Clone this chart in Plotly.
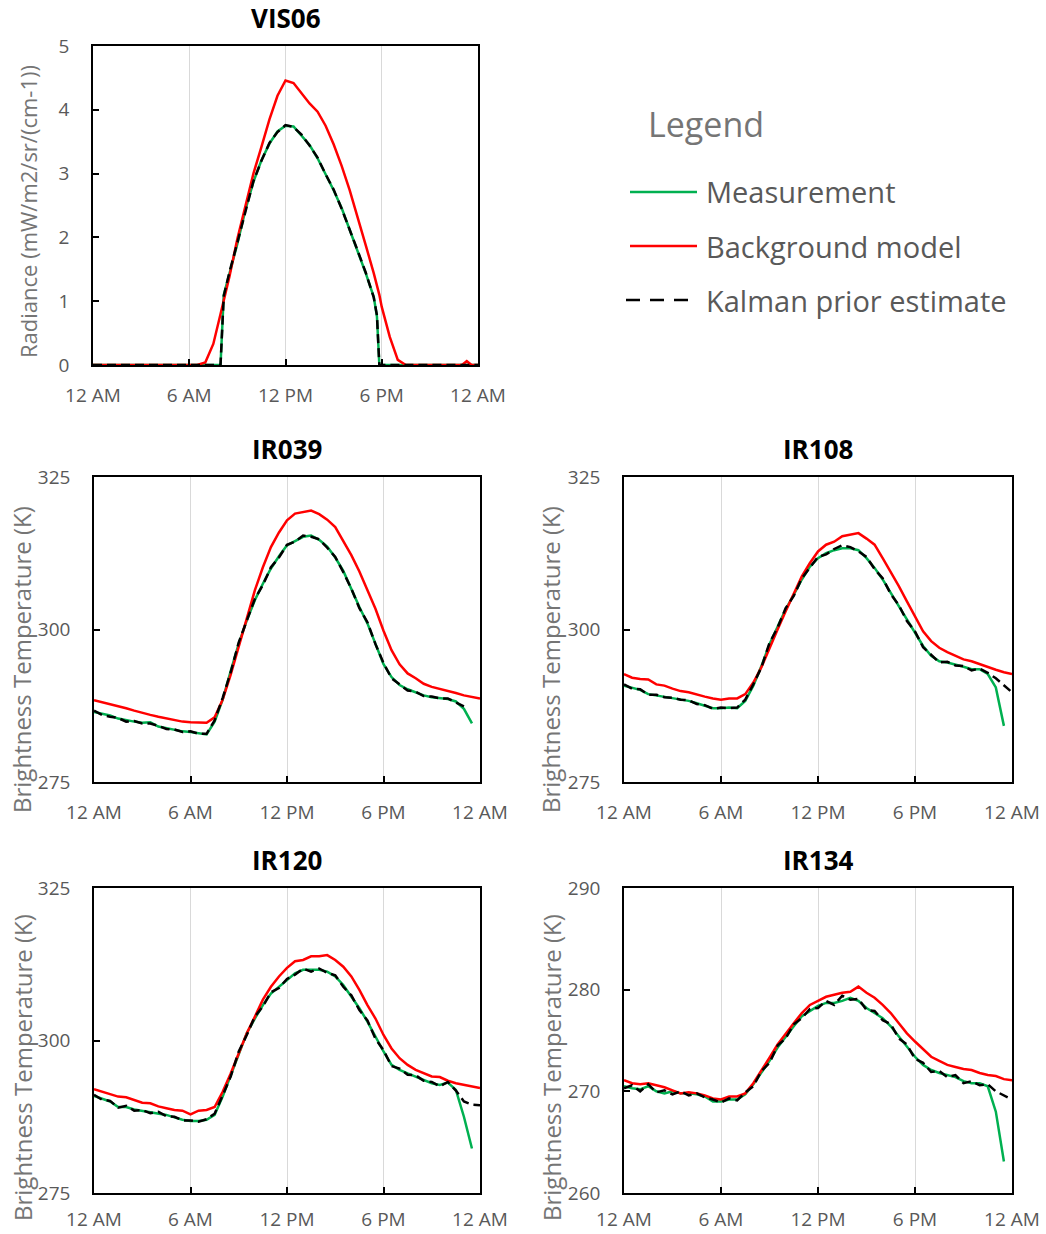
import plotly.graph_objects as go

# ---------------- data ----------------
tick_hours = [0, 6, 12, 18, 24]
tick_labels = ["12 AM", "6 AM", "12 PM", "6 PM", "12 AM"]

hours_vis = [0, 1, 2, 3, 4, 5, 6, 6.5, 7, 7.5, 7.95, 8.15, 8.5, 9, 9.5, 10, 10.5, 11, 11.5, 12,
             12.5, 13, 13.5, 14, 14.5, 15, 15.5, 16, 16.5, 17, 17.5, 17.7, 17.85, 18, 18.5, 19,
             19.5, 20, 21, 22, 23, 23.3, 23.6, 24]
vis06_meas = [0, 0, 0, 0, 0, 0, 0, 0, 0, 0, 0, 1.1, 1.42, 1.9, 2.43, 2.87, 3.21, 3.47, 3.66, 3.75,
              3.74, 3.6, 3.45, 3.24, 3.0, 2.74, 2.46, 2.12, 1.8, 1.44, 1.07, 0.76, 0, 0, 0, 0,
              0, 0, 0, 0, 0, 0, 0, 0]
vis06_bg = [0, 0, 0, 0, 0, 0, 0, 0, 0.04, 0.33, 0.8, 1.0, 1.38, 1.98, 2.5, 3.0, 3.42, 3.85, 4.22, 4.46,
            4.42, 4.26, 4.1, 3.97, 3.75, 3.46, 3.12, 2.74, 2.33, 1.88, 1.44, 1.25, 1.1, 0.91, 0.44, 0.08,
            0, 0, 0, 0, 0, 0.06, 0, 0]
vis06_kal = [0, 0, 0, 0, 0, 0, 0, 0, 0, 0, 0, 1.08, 1.45, 1.92, 2.41, 2.88, 3.2, 3.48, 3.65, 3.76,
             3.73, 3.61, 3.44, 3.25, 2.99, 2.75, 2.45, 2.13, 1.79, 1.45, 1.06, 0.78, 0, 0, 0, 0,
             0, 0, 0, 0, 0, 0, 0, 0]

hours_ir = [0, 0.5, 1, 1.5, 2, 2.5, 3, 3.5, 4, 4.5, 5, 5.5, 6, 6.5, 7, 7.5, 8, 8.5, 9, 9.5,
            10, 10.5, 11, 11.5, 12, 12.5, 13, 13.5, 14, 14.5, 15, 15.5, 16, 16.5, 17, 17.5,
            18, 18.5, 19, 19.5, 20, 20.5, 21, 21.5, 22, 22.5, 23, 23.5, 24]

ir039_meas = [286.5, 286.2, 285.9, 285.4, 285.1, 284.9, 284.7, 284.8, 284.1, 283.8, 283.5, 283.3, 283.2,
              283.0, 282.8, 284.9, 288.5, 293.2, 297.7, 301.5, 304.8, 307.5, 310.0, 312.0, 313.8, 314.5,
              315.2, 315.4, 314.7, 313.6, 311.8, 309.6, 306.5, 303.7, 301.0, 297.8, 294.3, 292.2, 290.9,
              290.2, 289.7, 289.2, 288.9, 288.8, 288.6, 288.2, 287.0, 284.6, None]
ir039_bg = [288.4, 288.1, 287.8, 287.5, 287.1, 286.7, 286.3, 286.0, 285.7, 285.4, 285.1, 284.9, 284.8,
            284.8, 284.7, 285.6, 288.5, 292.6, 297.1, 302.0, 306.4, 310.2, 313.5, 315.9, 317.9, 319.0,
            319.2, 319.5, 318.9, 318.0, 316.8, 314.6, 312.2, 309.5, 306.5, 303.4, 299.8, 296.6, 294.3,
            292.8, 292.0, 291.1, 290.6, 290.3, 290.0, 289.6, 289.2, 288.9, 288.7]
ir039_kal = [286.7, 286.0, 285.7, 285.5, 284.9, 285.0, 284.6, 284.6, 284.2, 283.7, 283.6, 283.2, 283.3,
             282.9, 282.9, 285.1, 288.8, 293.0, 297.9, 301.3, 305.0, 307.3, 310.2, 311.8, 313.9, 314.4,
             315.4, 315.2, 314.8, 313.4, 311.9, 309.4, 306.7, 303.5, 301.2, 297.6, 294.5, 292.0, 291.0,
             290.0, 289.8, 289.1, 289.0, 288.7, 288.7, 288.1, 287.4, None, None]

ir108_meas = [290.8, 290.4, 290.1, 289.4, 289.2, 289.0, 288.7, 288.6, 288.3, 287.9, 287.5, 287.1, 287.1,
              287.2, 287.1, 288.3, 290.8, 294.0, 297.6, 300.5, 303.3, 305.7, 308.2, 310.3, 311.7, 312.5,
              313.0, 313.3, 313.3, 313.0, 311.7, 310.1, 308.2, 306.0, 303.8, 301.6, 299.5, 297.3, 295.7,
              294.8, 294.6, 294.3, 293.9, 293.5, 293.5, 292.7, 290.5, 284.2, None]
ir108_bg = [292.7, 292.1, 291.9, 291.8, 291.0, 290.8, 290.3, 289.9, 289.7, 289.3, 289.0, 288.7, 288.5,
            288.7, 288.7, 289.4, 291.3, 293.8, 297.0, 300.0, 303.0, 306.0, 308.7, 310.9, 312.8, 313.9,
            314.4, 315.3, 315.5, 315.8, 314.9, 313.9, 311.7, 309.5, 307.1, 304.6, 302.2, 299.7, 298.1,
            297.0, 296.3, 295.7, 295.1, 294.8, 294.3, 293.8, 293.4, 293.0, 292.7]
ir108_kal = [291.0, 290.3, 290.2, 289.3, 289.3, 288.9, 288.8, 288.5, 288.4, 287.8, 287.6, 287.0, 287.2,
             287.1, 287.2, 288.5, 291.0, 293.8, 297.8, 300.3, 303.5, 305.5, 308.4, 310.1, 311.9, 312.3,
             313.2, 313.8, 313.5, 312.8, 311.9, 309.9, 308.4, 305.8, 304.0, 301.4, 299.7, 297.1, 295.9,
             294.6, 294.7, 294.1, 294.0, 293.3, 293.6, 292.9, 292.0, 290.8, 289.7]

ir120_meas = [290.9, 290.5, 290.0, 289.1, 289.1, 288.7, 288.5, 288.3, 288.1, 287.8, 287.4, 287.0, 286.8,
              286.8, 287.0, 287.8, 290.8, 294.3, 297.9, 301.2, 303.6, 305.8, 307.7, 308.8, 309.9, 311.0,
              311.6, 311.6, 311.6, 311.3, 310.5, 309.1, 307.2, 305.3, 303.1, 300.6, 298.2, 296.0, 295.2,
              294.6, 294.1, 293.6, 293.0, 292.7, 293.1, 291.9, 287.5, 282.3, None]
ir120_bg = [292.0, 291.6, 291.2, 290.8, 290.7, 290.2, 289.8, 289.7, 289.2, 288.9, 288.6, 288.5, 287.9,
            288.5, 288.6, 289.1, 291.6, 294.6, 297.9, 301.2, 303.9, 306.7, 308.8, 310.5, 311.9, 313.0,
            313.2, 313.8, 313.8, 314.0, 313.2, 312.1, 310.5, 308.3, 305.8, 303.6, 300.9, 298.7, 297.1,
            296.0, 295.2, 294.6, 294.1, 294.0, 293.4, 293.0, 292.7, 292.5, 292.2]
ir120_kal = [291.1, 290.3, 290.1, 289.0, 289.3, 288.5, 288.6, 288.1, 288.3, 287.6, 287.5, 286.9, 286.9,
             286.7, 287.1, 288.0, 291.0, 294.1, 298.2, 300.9, 303.9, 305.6, 307.9, 308.6, 310.1, 310.8,
             311.8, 311.3, 311.8, 311.1, 310.7, 308.8, 307.4, 305.0, 303.3, 300.3, 298.4, 295.8, 295.4,
             294.4, 294.3, 293.4, 293.2, 292.5, 293.2, 291.8, 290.0, 289.5, 289.4]

ir134_meas = [270.5, 270.3, 270.2, 270.5, 270.0, 269.8, 270.0, 269.8, 269.8, 269.7, 269.5, 269.0, 269.0,
              269.2, 269.2, 269.7, 270.7, 271.8, 273.0, 274.3, 275.4, 276.4, 277.4, 277.9, 278.4, 278.7,
              278.7, 278.9, 279.2, 278.9, 278.2, 277.7, 277.2, 276.4, 275.4, 274.4, 273.4, 272.6, 272.1,
              271.8, 271.6, 271.4, 271.0, 270.8, 270.8, 270.5, 268.0, 263.1, None]
ir134_bg = [271.1, 270.8, 270.7, 270.8, 270.6, 270.4, 270.1, 269.8, 269.9, 269.8, 269.6, 269.3, 269.2,
            269.5, 269.5, 269.8, 270.8, 272.0, 273.3, 274.6, 275.7, 276.7, 277.7, 278.5, 278.9, 279.3,
            279.5, 279.7, 279.8, 280.3, 279.7, 279.2, 278.5, 277.7, 276.7, 275.7, 274.9, 274.1, 273.4,
            273.0, 272.6, 272.4, 272.2, 272.1, 271.8, 271.6, 271.5, 271.2, 271.1]
ir134_kal = [270.3, 270.6, 270.0, 270.7, 269.9, 270.1, 269.7, 270.0, 269.6, 269.8, 269.4, 269.2, 268.9,
             269.3, 269.1, 269.9, 270.5, 272.0, 272.8, 274.5, 275.2, 276.6, 277.2, 278.1, 278.2, 278.9,
             278.5, 279.4, 279.0, 279.1, 278.0, 277.9, 277.0, 276.6, 275.2, 274.6, 273.2, 272.8, 271.9,
             272.0, 271.4, 271.6, 270.8, 271.0, 270.6, 270.7, 270.0, 269.6, 269.2]

series_names = ["Measurement", "Background model", "Kalman prior estimate"]

# ---------------- layout helpers ----------------
W, H = 1046, 1234
FONT = "Open Sans"
GRAY = "#595959"
TITLE_GRAY = "#757575"
C_MEAS, C_BG, C_KAL = "#00b050", "#ff0000", "#000000"


def fx(p):
    return p / W


def fy(p):
    return 1 - p / H


panels = [
    # title, hours, meas, bg, kal, (x0,x1) px, (top,bottom) px, yrange, dtick,
    # ytitle, ytitle size, ytitle centre (x, y) px, x tick standoff
    ("VIS06", hours_vis, vis06_meas, vis06_bg, vis06_kal, (93, 478), (46, 365), [0, 5], 1,
     "Radiance (mW/m2/sr/(cm-1))", 22, (28, 212), 12),
    ("IR039", hours_ir, ir039_meas, ir039_bg, ir039_kal, (94, 480), (477, 782), [275, 325], 25,
     "Brightness Temperature (K)", 24, (22, 660), 12),
    ("IR108", hours_ir, ir108_meas, ir108_bg, ir108_kal, (624, 1012), (477, 782), [275, 325], 25,
     "Brightness Temperature (K)", 24, (551, 660), 12),
    ("IR120", hours_ir, ir120_meas, ir120_bg, ir120_kal, (94, 480), (888, 1193), [275, 325], 25,
     "Brightness Temperature (K)", 24, (22, 1068), 8),
    ("IR134", hours_ir, ir134_meas, ir134_bg, ir134_kal, (624, 1012), (888, 1193), [260, 290], 10,
     "Brightness Temperature (K)", 24, (551, 1068), 8),
]

fig = go.Figure()
annotations = []
shapes = []

for i, (title, hrs, meas, bg, kal, (x0, x1), (top, bot), yr, dt, ytitle, ysize, (tx, ty), xstand) in enumerate(panels):
    n = "" if i == 0 else str(i + 1)
    xa, ya = "x" + n, "y" + n
    fig.add_trace(go.Scatter(x=hrs, y=meas, mode="lines", name=series_names[0],
                             line=dict(color=C_MEAS, width=2.5), xaxis=xa, yaxis=ya,
                             showlegend=False, connectgaps=False))
    fig.add_trace(go.Scatter(x=hrs, y=bg, mode="lines", name=series_names[1],
                             line=dict(color=C_BG, width=2.5), xaxis=xa, yaxis=ya,
                             showlegend=False, connectgaps=False))
    fig.add_trace(go.Scatter(x=hrs, y=kal, mode="lines", name=series_names[2],
                             line=dict(color=C_KAL, width=2.5, dash="9px,5px"), xaxis=xa, yaxis=ya,
                             showlegend=False, connectgaps=False))

    common = dict(showline=True, mirror=True, linecolor="#000000", linewidth=1.5,
                  ticks="inside", ticklen=6, tickcolor="#000000", tickwidth=1.5,
                  tickfont=dict(family=FONT, size=19, color=GRAY), zeroline=False,
                  fixedrange=True, automargin=False)
    fig.layout["xaxis" + n] = dict(
        domain=[fx(x0), fx(x1)], anchor=ya, range=[0, 24],
        tickmode="array", tickvals=tick_hours, ticktext=tick_labels,
        showgrid=True, gridcolor="#d9d9d9", gridwidth=1, ticklabelstandoff=xstand, **common)
    fig.layout["yaxis" + n] = dict(
        domain=[fy(bot), fy(top)], anchor=xa, range=yr, dtick=dt, tick0=yr[0],
        showgrid=False, ticklabelstandoff=18, **common)
    # y-axis title (placed as in the reference, slightly below the plot centre)
    annotations.append(dict(text=ytitle, x=fx(tx), y=fy(ty), xref="paper", yref="paper",
                            xanchor="center", yanchor="middle", textangle=-90, showarrow=False,
                            font=dict(family=FONT, size=ysize, color=TITLE_GRAY)))
    # panel title
    annotations.append(dict(text="<b>" + title + "</b>", x=fx((x0 + x1) / 2), y=fy(top - 28),
                            xref="paper", yref="paper", xanchor="center", yanchor="middle",
                            showarrow=False, font=dict(family=FONT, size=26, color="#000000")))

# ---------------- legend (drawn as a key panel) ----------------
annotations.append(dict(text="Legend", x=fx(646), y=fy(124), xref="paper", yref="paper",
                        xanchor="left", yanchor="middle", showarrow=False,
                        font=dict(family=FONT, size=34, color=TITLE_GRAY)))
legend_rows = [(series_names[0], C_MEAS, "solid", 192, 630, 697),
               (series_names[1], C_BG, "solid", 246, 630, 697),
               (series_names[2], C_KAL, "dash", 300, 626, 688)]
for name, col, dash, yc, lx0, lx1 in legend_rows:
    shapes.append(dict(type="line", xref="paper", yref="paper", x0=fx(lx0), x1=fx(lx1),
                       y0=fy(yc), y1=fy(yc), line=dict(color=col, width=2.5,
                                                       dash="14px,10px" if dash == "dash" else "solid")))
    annotations.append(dict(text=name, x=fx(704), y=fy(yc), xref="paper", yref="paper",
                            xanchor="left", yanchor="middle", showarrow=False,
                            font=dict(family=FONT, size=29, color=GRAY)))

fig.update_layout(
    width=W, height=H, margin=dict(l=0, r=0, t=0, b=0),
    paper_bgcolor="#ffffff", plot_bgcolor="#ffffff",
    showlegend=False, annotations=annotations, shapes=shapes,
    font=dict(family=FONT, color=GRAY),
)

fig.write_html("out.html", config={"displayModeBar": False})
